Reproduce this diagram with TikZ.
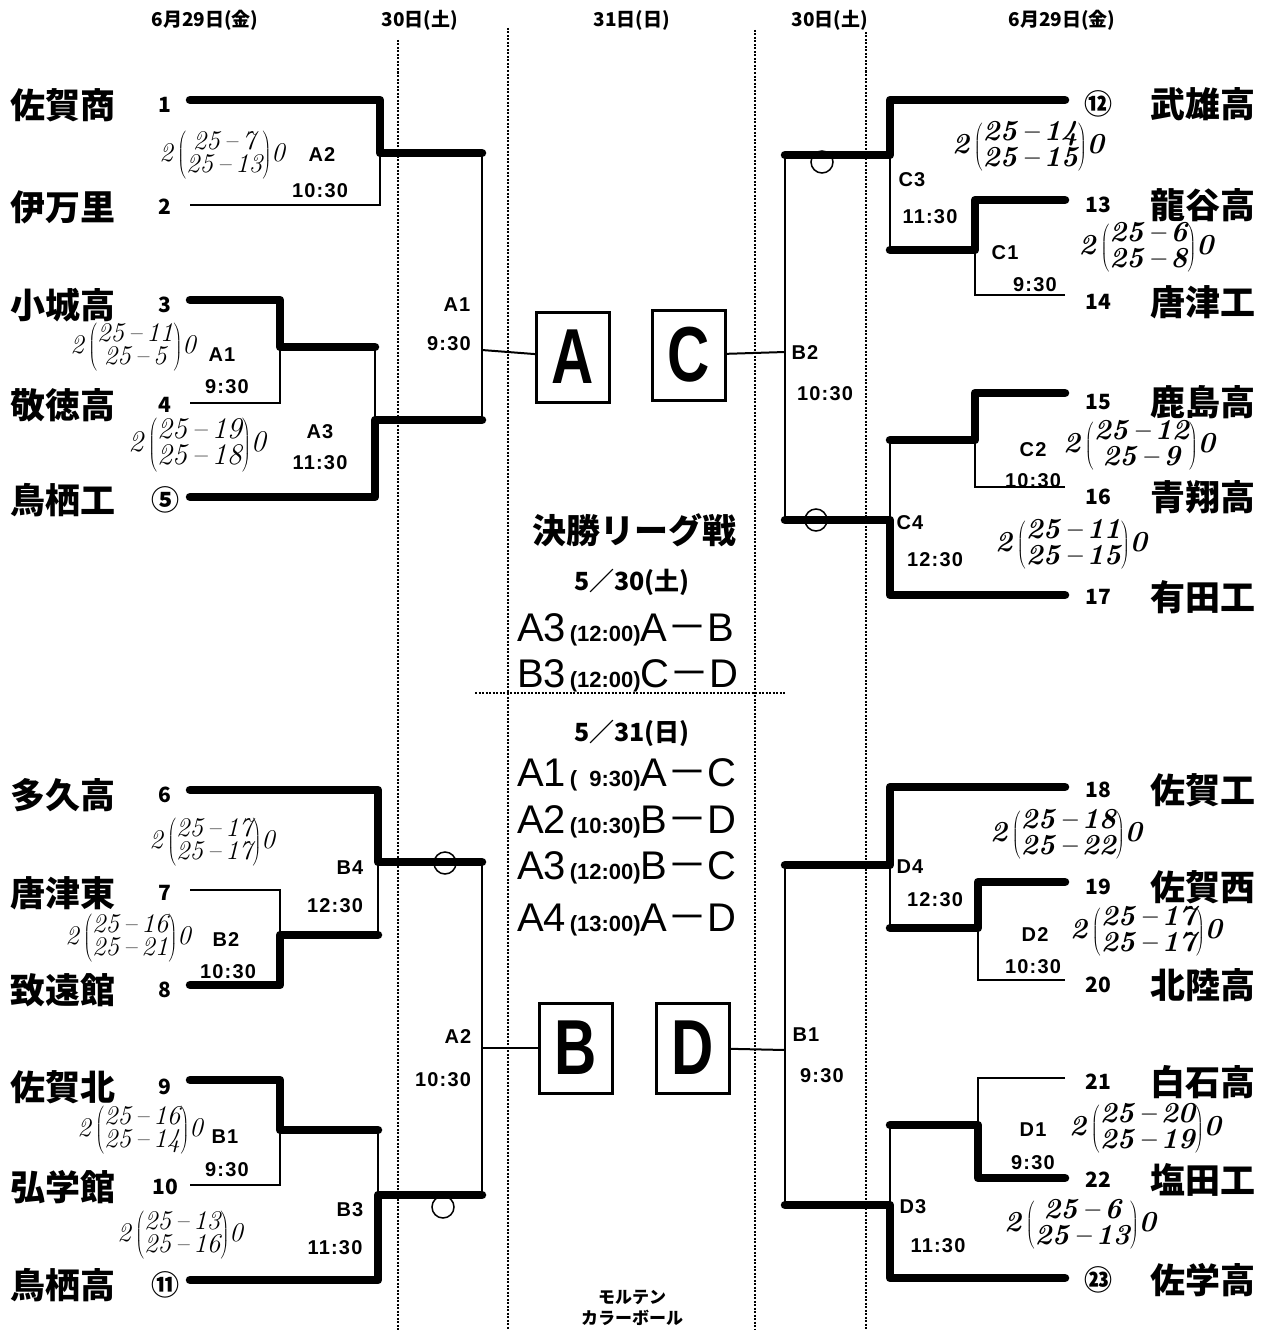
\documentclass[tikz,border=0pt]{standalone}
\usepackage{fontspec}
\usepackage{graphicx}
\newfontfamily\jpfont{Noto Sans CJK JP}
\newfontfamily\lblfont{Liberation Sans}[LetterSpace=6]
\newfontfamily\gamefont{Liberation Sans}
\newcommand\hscore[4]{#1\,$\left(\begin{tabular}{@{}c@{}}#2\\#3\end{tabular}\right)$#4}
\newcommand\game[4]{{\fontsize{40}{40}\selectfont #1}{\bfseries\fontsize{22}{22}\selectfont\,(#2)}{\fontsize{40}{40}\selectfont #3{\jpfont －}#4}}
\newcommand\ringnum[1]{{\fontsize{28}{28}\selectfont #1}}

\begin{document}
\begin{tikzpicture}
  [x=1pt,y=-1pt,
   win/.style={line width=8.5pt,line cap=round,line join=round},
   lose/.style={line width=2pt},
   sep/.style={line width=2.5pt,dash pattern=on 2pt off 1.5pt},
   team/.style={font=\jpfont\bfseries\fontsize{35}{35}\selectfont,inner sep=0pt},
   seed/.style={font=\jpfont\bfseries\fontsize{21}{21}\selectfont,inner sep=0pt},
   day/.style={font=\jpfont\bfseries\fontsize{19}{19}\selectfont,inner sep=0pt},
   game/.style={font=\lblfont\bfseries\fontsize{20}{20}\selectfont,inner sep=0pt},
   pool/.style={draw,line width=3pt,minimum width=73pt,minimum height=90pt,
                font=\gamefont\bfseries\fontsize{78}{78}\selectfont},
   ring/.style={circle,draw,line width=1.5pt,minimum size=22pt,inner sep=0pt},
   hand/.style={font=\itshape\fontsize{27}{20}\selectfont,inner sep=0pt},
   handR/.style={font=\bfseries\itshape\fontsize{29}{21}\selectfont,inner sep=0pt},
   league/.style={font=\gamefont,anchor=west,inner sep=0pt},
  ]
  \useasboundingbox (0,0) rectangle (1272,1330);

  % headers
  \node[day] (hd1) at (205,20) {6月29日(金)};
  \node[day] (hd2) at (420,20) {30日(土)};
  \node[day] (hd3) at (632,20) {31日(日)};
  \node[day] (hd4) at (830,20) {30日(土)};
  \node[day] (hd5) at (1062,20) {6月29日(金)};

  % day separators
  \draw[sep] (398,40) -- (398,1330);
  \draw[sep] (508,28) -- (508,1330);
  \draw[sep] (755,30) -- (755,1330);
  \draw[sep] (866,32) -- (866,1330);
  \draw[sep] (475,693) -- (785,693);

  % teams
  \foreach \i/\team/\num/\y/\ly in {1/佐賀商/1/105/100, 2/伊万里/2/207/205,
      3/小城高/3/305/300, 4/敬徳高/4/405/403, 5/鳥栖工/\ringnum{⑤}/500/497,
      6/多久高/6/795/790, 7/唐津東/7/893/890, 8/致遠館/8/990/985,
      9/佐賀北/9/1087/1080, 10/弘学館/10/1187/1185, 11/鳥栖高/\ringnum{⑪}/1285/1280} {
    \node[team,anchor=west] (name\i) at (10,\y) {\team};
    \node[seed] (seed\i) at (165,\y) {\num};
    \coordinate (s\i) at (190,\ly);
  }
  \foreach \i/\team/\num/\y/\ly in {12/武雄高/\ringnum{⑫}/104/100, 13/龍谷高/13/205/200,
      14/唐津工/14/302/295, 15/鹿島高/15/402/393, 16/青翔高/16/497/487,
      17/有田工/17/597/595, 18/佐賀工/18/790/787, 19/佐賀西/19/887/882,
      20/北陸高/20/985/980, 21/白石高/21/1082/1078, 22/塩田工/22/1180/1178,
      23/佐学高/\ringnum{㉓}/1280/1278} {
    \node[team,anchor=west] (name\i) at (1150,\y) {\team};
    \node[seed] (seed\i) at (1098,\y) {\num};
    \coordinate (s\i) at (1065,\ly);
  }

  % pools
  \node[pool] (poolA) at (573,357) {\scalebox{0.75}[1]{A}};
  \node[pool] (poolC) at (689,355) {\scalebox{0.75}[1]{C}};
  \node[pool] (poolB) at (576,1048) {\scalebox{0.75}[1]{B}};
  \node[pool] (poolD) at (693,1048) {\scalebox{0.75}[1]{D}};

  % junctions
  \coordinate (mA2) at (380,153);  \coordinate (uA1) at (482,153);
  \coordinate (mA1) at (280,347);  \coordinate (kA3) at (375,347);
  \coordinate (mA3) at (375,420);  \coordinate (dA1) at (482,420);
  \coordinate (oA1) at (482,350);
  \coordinate (mB4) at (378,862);  \coordinate (uA2) at (482,862);
  \coordinate (mB2) at (280,935);  \coordinate (kB4) at (378,935);
  \coordinate (mB1) at (280,1130); \coordinate (kB3) at (378,1130);
  \coordinate (mB3) at (378,1195); \coordinate (dA2) at (482,1195);
  \coordinate (oA2) at (482,1048);
  \coordinate (mC3) at (890,155);  \coordinate (uB2) at (785,155);
  \coordinate (mC1) at (975,250);  \coordinate (kC3) at (890,250);
  \coordinate (mC2) at (975,440);  \coordinate (kC4) at (890,440);
  \coordinate (mC4) at (890,520);  \coordinate (dB2) at (785,520);
  \coordinate (oB2) at (785,352);
  \coordinate (mD4) at (890,865);  \coordinate (uB1) at (785,865);
  \coordinate (mD2) at (978,928);  \coordinate (kD4) at (890,928);
  \coordinate (mD1) at (978,1125); \coordinate (kD3) at (890,1125);
  \coordinate (mD3) at (890,1205); \coordinate (dB1) at (785,1205);
  \coordinate (oB1) at (785,1050);

  % losing lines
  \draw[lose] (s2) -| (mA2);
  \draw[lose] (s4) -| (mA1);
  \draw[lose] (kA3) -- (mA3);
  \draw[lose] (uA1) -- (dA1);
  \draw[lose] (oA1) -- (poolA);
  \draw[lose] (s7) -| (mB2);
  \draw[lose] (kB4) -- (mB4);
  \draw[lose] (s10) -| (mB1);
  \draw[lose] (kB3) -- (mB3);
  \draw[lose] (uA2) -- (dA2);
  \draw[lose] (oA2) -- (poolB);
  \draw[lose] (s14) -| (mC1);
  \draw[lose] (kC3) -- (mC3);
  \draw[lose] (s16) -| (mC2);
  \draw[lose] (kC4) -- (mC4);
  \draw[lose] (uB2) -- (dB2);
  \draw[lose] (oB2) -- (poolC);
  \draw[lose] (s20) -| (mD2);
  \draw[lose] (kD4) -- (mD4);
  \draw[lose] (s21) -| (mD1);
  \draw[lose] (kD3) -- (mD3);
  \draw[lose] (uB1) -- (dB1);
  \draw[lose] (oB1) -- (poolD);

  % winning lines
  \draw[win] (s1) -| (mA2) -- (uA1);
  \draw[win] (s3) -| (mA1) -- (kA3);
  \draw[win] (s5) -| (mA3) -- (dA1);
  \draw[win] (s6) -| (mB4) -- (uA2);
  \draw[win] (s8) -| (mB2) -- (kB4);
  \draw[win] (s9) -| (mB1) -- (kB3);
  \draw[win] (s11) -| (mB3) -- (dA2);
  \draw[win] (s12) -| (mC3) -- (uB2);
  \draw[win] (s13) -| (mC1) -- (kC3);
  \draw[win] (s15) -| (mC2) -- (kC4);
  \draw[win] (s17) -| (mC4) -- (dB2);
  \draw[win] (s18) -| (mD4) -- (uB1);
  \draw[win] (s19) -| (mD2) -- (kD4);
  \draw[win] (s22) -| (mD1) -- (kD3);
  \draw[win] (s23) -| (mD3) -- (dB1);

  \node[ring] (rB4) at (445,863) {};
  \node[ring] (rB3) at (443,1207) {};
  \node[ring] (rC3) at (822,162) {};
  \node[ring] (rC4) at (816,520) {};

  % match labels
  \node[game] (tlA2) at (322,155) {A2};   \node[game] (tlA2t) at (320,191) {10:30};
  \node[game] (tlA1) at (222,355) {A1};   \node[game] (tlA1t) at (227,387) {9:30};
  \node[game] (tlA3) at (320,432) {A3};   \node[game] (tlA3t) at (320,463) {11:30};
  \node[game] (sfA1) at (457,305) {A1};   \node[game] (sfA1t) at (449,344) {9:30};
  \node[game] (blB4) at (350,868) {B4};   \node[game] (blB4t) at (335,906) {12:30};
  \node[game] (blB2) at (226,940) {B2};   \node[game] (blB2t) at (228,972) {10:30};
  \node[game] (blB1) at (225,1137) {B1};  \node[game] (blB1t) at (227,1170) {9:30};
  \node[game] (blB3) at (350,1210) {B3};  \node[game] (blB3t) at (335,1248) {11:30};
  \node[game] (sfA2) at (458,1037) {A2};  \node[game] (sfA2t) at (443,1080) {10:30};
  \node[game] (trC3) at (912,180) {C3};   \node[game] (trC3t) at (930,217) {11:30};
  \node[game] (trC1) at (1005,253) {C1};  \node[game] (trC1t) at (1035,285) {9:30};
  \node[game] (trC2) at (1033,450) {C2};  \node[game] (trC2t) at (1033,481) {10:30};
  \node[game] (trC4) at (910,523) {C4};   \node[game] (trC4t) at (935,560) {12:30};
  \node[game] (sfB2) at (805,353) {B2};   \node[game] (sfB2t) at (825,394) {10:30};
  \node[game] (brD4) at (910,867) {D4};   \node[game] (brD4t) at (935,900) {12:30};
  \node[game] (brD2) at (1035,935) {D2};  \node[game] (brD2t) at (1033,967) {10:30};
  \node[game] (brD1) at (1033,1130) {D1}; \node[game] (brD1t) at (1033,1163) {9:30};
  \node[game] (brD3) at (913,1207) {D3};  \node[game] (brD3t) at (938,1246) {11:30};
  \node[game] (sfB1) at (806,1035) {B1};  \node[game] (sfB1t) at (822,1076) {9:30};

  % scores written in
  \node[hand] (scA2) at (222,155) {\hscore{2}{25\,--\,7}{25\,--\,13}{0}};
  \node[hand] (scA1) at (133,347) {\hscore{2}{25\,--\,11}{25\,--\,5}{0}};
  \node[hand,font=\itshape\fontsize{30}{23}\selectfont] (scA3) at (197,445) {\hscore{2}{25\,--\,19}{25\,--\,18}{0}};
  \node[hand] (scB4) at (212,842) {\hscore{2}{25\,--\,17}{25\,--\,17}{0}};
  \node[hand] (scB2) at (128,938) {\hscore{2}{25\,--\,16}{25\,--\,21}{0}};
  \node[hand] (scB1) at (140,1130) {\hscore{2}{25\,--\,16}{25\,--\,14}{0}};
  \node[hand] (scB3) at (180,1235) {\hscore{2}{25\,--\,13}{25\,--\,16}{0}};
  \node[handR] (scC3) at (1028,147) {\hscore{2}{25\,--\,14}{25\,--\,15}{0}};
  \node[handR] (scC1) at (1146,248) {\hscore{2}{25\,--\,6}{25\,--\,8}{0}};
  \node[handR] (scC2) at (1139,446) {\hscore{2}{25\,--\,12}{25\,--\,9}{0}};
  \node[handR] (scC4) at (1071,545) {\hscore{2}{25\,--\,11}{25\,--\,15}{0}};
  \node[handR] (scD4) at (1066,835) {\hscore{2}{25\,--\,18}{25\,--\,22}{0}};
  \node[handR] (scD2) at (1146,932) {\hscore{2}{25\,--\,17}{25\,--\,17}{0}};
  \node[handR] (scD1) at (1145,1129) {\hscore{2}{25\,--\,20}{25\,--\,19}{0}};
  \node[handR] (scD3) at (1080,1225) {\hscore{2}{25\,--\,6}{25\,--\,13}{0}};

  % final league
  \node[font=\jpfont\bfseries\fontsize{34}{34}\selectfont] (title) at (634,530) {決勝リーグ戦};
  \node[font=\jpfont\bfseries\fontsize{25}{25}\selectfont] (day30) at (632,582) {5／30(土)};
  \node[league] (g1) at (517,630) {\game{A3}{12:00}{A}{B}};
  \node[league] (g2) at (517,676) {\game{B3}{12:00}{C}{D}};
  \node[font=\jpfont\bfseries\fontsize{25}{25}\selectfont] (day31) at (632,733) {5／31(日)};
  \node[league] (g3) at (517,775) {\game{A1}{\ \ 9:30}{A}{C}};
  \node[league] (g4) at (517,822) {\game{A2}{10:30}{B}{D}};
  \node[league] (g5) at (517,868) {\game{A3}{12:00}{B}{C}};
  \node[league] (g6) at (517,920) {\game{A4}{13:00}{A}{D}};

  \node[day,font=\jpfont\bfseries\fontsize{17}{17}\selectfont] (maker1) at (632,1297) {モルテン};
  \node[day,font=\jpfont\bfseries\fontsize{17}{17}\selectfont] (maker2) at (632,1318) {カラーボール};
\end{tikzpicture}
\end{document}
